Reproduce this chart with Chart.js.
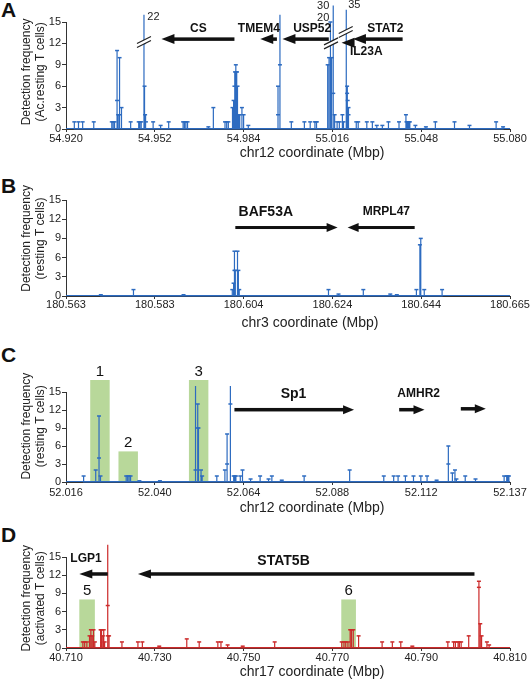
<!DOCTYPE html>
<html>
<head>
<meta charset="utf-8">
<script src="https://cdn.jsdelivr.net/npm/chart.js@4.4.1/dist/chart.umd.min.js"></script>
<style>
  body { margin: 0; background: #fff; width: 530px; height: 682px; position: relative; overflow: hidden; }
  .tag { position: absolute; left: 1px; font: bold 21px 'Liberation Sans', Arial, sans-serif; line-height: 1; color: #111; }
</style>
</head>
<body>
<div class="tag" style="top:-1px">A</div>
<div class="tag" style="top:175px">B</div>
<div class="tag" style="top:344px">C</div>
<div class="tag" style="top:524px">D</div>
<script>
const FONT = "'Liberation Sans', Arial, Helvetica, sans-serif";
const W = 530;

// ---- panel A : chr12, Ac. resting T cells ----
const aTicks = ['54.920', '54.952', '54.984', '55.016', '55.048', '55.080'];
const aPos = [54.923, 54.9245, 54.926, 54.930, 54.9365, 54.937, 54.9375,
  54.9384, 54.9384, 54.9388, 54.9393, 54.9393, 54.940,
  54.9433, 54.9462, 54.9466, 54.9471,
  54.9481, 54.9481, 54.9483, 54.9485, 54.9488,
  54.9514, 54.9541, 54.957, 54.9622, 54.9627, 54.9632, 54.9638,
  54.9713, 54.9731, 54.9773, 54.9779, 54.9785,
  54.9800, 54.9804, 54.9807, 54.9809, 54.9812, 54.9814, 54.9816, 54.9818, 54.9822, 54.9826, 54.9834, 54.984, 54.9857,
  54.9964, 54.9964, 54.9971, 54.9971,
  55.0012, 55.0059, 55.008, 55.0097, 55.0101, 55.0104,
  55.0143, 55.0148, 55.0153, 55.0157, 55.0163, 55.0163, 55.0168,
  55.0177, 55.0185, 55.0196, 55.020,
  55.021, 55.0213, 55.0213, 55.0215, 55.0218, 55.0218,
  55.0246, 55.0253, 55.0284, 55.0304, 55.032, 55.034, 55.0362,
  55.040, 55.0425, 55.0427, 55.0431, 55.0435, 55.0439, 55.0459, 55.0497,
  55.0531, 55.060, 55.0654, 55.075, 55.0775];
const aVal = [1, 1, 1, 1, 1, 1, 1,
  11, 4, 2, 10, 2, 3,
  1, 1, 1, 1,
  16, 12, 6, 2, 1,
  1, 0.5, 1, 1, 1, 1, 1,
  0.3, 3, 1, 1, 1,
  3, 4, 6, 8, 9, 8, 8, 6, 2, 2, 3, 2, 0.5,
  6, 2, 16, 9,
  1, 1, 1, 1, 1, 1,
  9, 10, 15, 10, 17.3, 5, 2,
  1, 1, 2, 1,
  16.7, 6, 5, 4, 3, 2,
  1, 1, 1, 1, 0.5, 0.5, 1,
  1, 2, 1, 1, 1, 1, 0.5, 0.3,
  1, 1, 0.5, 1, 0.3];
const aGenes = [
  { name: 'CS',    from: 54.9807, to: 54.9544, y: 12.6, at: 54.9677, ty: 14 },
  { name: 'TMEM4', from: 54.9960, to: 54.9900, y: 12.6, at: 54.9895, ty: 14 },
  { name: 'USP52', from: 55.0147, to: 54.9980, y: 12.6, at: 55.0087, ty: 14 },
  { name: 'STAT2', from: 55.0413, to: 55.0234, y: 12.6, at: 55.0351, ty: 14 },
  { name: 'IL23A', from: 55.0220, to: 55.0193, y: 12.1, at: 55.0282, ty: 10.8 }
];
const aBreaks = [{ x: 54.9481, y: 12.2 }, { x: 55.0155, y: 12.0 }, { x: 55.0208, y: 13.6 }];
const aNotes = [
  { text: '22', x: 54.9493, y: 15.7, align: 'left' },
  { text: '30', x: 55.0149, y: 17.2, align: 'right' },
  { text: '20', x: 55.0149, y: 15.6, align: 'right' },
  { text: '35', x: 55.0217, y: 17.4, align: 'left' }
];

// ---- panel B : chr3, resting T cells ----
const bTicks = ['180.563', '180.583', '180.604', '180.624', '180.644', '180.665'];
const bPos = [180.571, 180.5785, 180.590, 180.6012, 180.6015, 180.6017, 180.6017, 180.6019,
  180.6024, 180.6026, 180.6028, 180.6233, 180.6256, 180.6313, 180.6375, 180.639,
  180.6435, 180.6443, 180.6445, 180.6453, 180.6494];
const bVal = [0.2, 1, 0.2, 1, 2, 7, 4, 4,
  7, 4, 1, 1, 0.3, 1, 0.3, 0.2,
  1, 8, 9, 1, 1];
const bGenes = [
  { name: 'BAF53A', from: 180.6019, to: 180.6254, y: 10.7, at: 180.6089, ty: 13.1 },
  { name: 'MRPL47', from: 180.6431, to: 180.6277, y: 10.7, at: 180.6366, ty: 13.1 }
];

// ---- panel C : chr12 (Sp1), resting T cells ----
const cTicks = ['52.016', '52.040', '52.064', '52.088', '52.112', '52.137'];
const cPos = [52.0208, 52.0241, 52.025, 52.025, 52.0254, 52.0324, 52.0328, 52.0332, 52.0336, 52.036, 52.0416,
  52.0513, 52.0513, 52.0519, 52.0519, 52.0521, 52.0528, 52.0531,
  52.0571, 52.0593, 52.0599, 52.0599, 52.0608, 52.0608,
  52.0617, 52.062, 52.0623, 52.0635, 52.0641,
  52.0663, 52.0689, 52.0712, 52.0721, 52.0748,
  52.0809, 52.0933, 52.1026, 52.1053, 52.1065, 52.1085, 52.1107, 52.1127, 52.1144, 52.117,
  52.1202, 52.1202, 52.1213, 52.122, 52.1224, 52.1248, 52.1276, 52.1354, 52.1361, 52.1364, 52.1367];
const cVal = [1, 2, 11, 4, 1, 1, 1, 1, 1, 0.2, 0.2,
  16, 2, 13, 9, 9, 2, 1,
  1, 2, 8, 3, 16, 13,
  1, 1, 1, 1, 2,
  0.5, 1, 0.5, 1, 0.3,
  1, 2, 1, 1, 1, 1, 1, 1, 1, 0.3,
  6, 3, 1.5, 2, 0.5, 1, 0.5, 1, 1, 1, 1];
const cGenes = [
  { name: 'Sp1',   from: 52.0619, to: 52.0945, y: 12.05, at: 52.0780, ty: 14.7 },
  { name: 'AMHR2', from: 52.1068, to: 52.1137, y: 12.05, at: 52.1121, ty: 14.8 },
  { name: '',      from: 52.1236, to: 52.1304, y: 12.2 }
];
const cBoxes = [
  { label: '1', from: 52.0226, to: 52.0279, top: 17 },
  { label: '2', from: 52.0303, to: 52.0356, top: 5.1 },
  { label: '3', from: 52.0495, to: 52.0548, top: 17 }
];

// ---- panel D : chr17 (STAT5B), activated T cells ----
const dTicks = ['40.710', '40.730', '40.750', '40.770', '40.790', '40.810'];
const dPos = [40.7138, 40.7142, 40.7147, 40.7153, 40.7156, 40.7159, 40.7162, 40.7165,
  40.7178, 40.718, 40.7183, 40.7185, 40.7187,
  40.7194, 40.7194, 40.7194, 40.7197,
  40.7226, 40.7262, 40.7272, 40.731, 40.7372, 40.740, 40.7442, 40.7449, 40.7464, 40.7498, 40.757,
  40.7721, 40.7726, 40.773, 40.7735, 40.774, 40.7743, 40.7747, 40.7759,
  40.7812, 40.7835, 40.7854, 40.788, 40.796, 40.7973, 40.7977, 40.7983, 40.7986, 40.799, 40.8007,
  40.803, 40.803, 40.8033, 40.8036, 40.8048, 40.8053];
const dVal = [1, 1, 1, 2, 3, 2, 3, 1,
  3, 3, 2, 3, 1,
  17, 7, 2, 2,
  1, 1, 1, 0.3, 1.5, 1, 1, 1, 0.5, 0.3, 1,
  1, 1, 1, 1, 3, 3, 3, 2,
  1, 1, 1, 0.3, 1, 1, 1, 1, 1, 1, 2,
  11, 10, 4, 2, 1, 0.5];
const dGenes = [
  { name: 'LGP1',   from: 40.7194, to: 40.7130, y: 12.2, at: 40.7145, ty: 14.7 },
  { name: 'STAT5B', from: 40.8020, to: 40.7262, y: 12.2, at: 40.7590, ty: 14.3 }
];
const dBoxes = [
  { label: '5', from: 40.7130, to: 40.7165, top: 8 },
  { label: '6', from: 40.7720, to: 40.7753, top: 8 }
];

const bigLabels = ['BAF53A', 'Sp1', 'STAT5B'];

function stems(pos, val) {
  const pts = [];
  pos.forEach((p, i) => {
    pts.push({ x: p, y: 0 }, { x: p, y: val[i], cap: true }, { x: p, y: 0 });
  });
  return pts;
}

function arrow(ctx, x1, x2, yy, a) {
  const dir = Math.sign(x2 - x1);
  const xb = x2 - dir * a.head;
  ctx.fillRect(Math.min(x1, xb), yy - a.w / 2, Math.abs(xb - x1), a.w);
  ctx.beginPath();
  ctx.moveTo(x2, yy);
  ctx.lineTo(xb - dir * 1, yy - a.half);
  ctx.lineTo(xb - dir * 1, yy + a.half);
  ctx.closePath();
  ctx.fill();
}

function breakMark(ctx, cx, cy) {
  ctx.fillStyle = '#fff';
  ctx.beginPath();
  ctx.moveTo(cx - 7, cy + 1.5);
  ctx.lineTo(cx + 7, cy - 5.5);
  ctx.lineTo(cx + 7, cy - 1.5);
  ctx.lineTo(cx - 7, cy + 5.5);
  ctx.closePath();
  ctx.fill();
  ctx.strokeStyle = '#222';
  ctx.lineWidth = 1.2;
  ctx.beginPath();
  ctx.moveTo(cx - 7, cy + 1.5); ctx.lineTo(cx + 7, cy - 5.5);
  ctx.moveTo(cx - 7, cy + 5.5); ctx.lineTo(cx + 7, cy - 1.5);
  ctx.stroke();
}

const overlay = {
  id: 'overlay',
  beforeDatasetsDraw(chart, args, o) {
    const { ctx, scales: { x, y } } = chart;
    ctx.save();
    (o.boxes || []).forEach(b => {
      const x1 = x.getPixelForValue(b.from), x2 = x.getPixelForValue(b.to);
      const yt = y.getPixelForValue(b.top), yb = y.getPixelForValue(0);
      ctx.fillStyle = 'rgb(184,216,154)';
      ctx.fillRect(x1, yt, x2 - x1, yb - yt);
      ctx.fillStyle = '#111';
      ctx.font = '15px ' + FONT;
      ctx.textAlign = 'center';
      ctx.textBaseline = 'alphabetic';
      ctx.fillText(b.label, (x1 + x2) / 2, yt - 4);
    });
    ctx.restore();
  },
  afterDatasetsDraw(chart, args, o) {
    const { ctx, scales: { x, y } } = chart;
    ctx.save();
    (o.breaks || []).forEach(b => breakMark(ctx, x.getPixelForValue(b.x), y.getPixelForValue(b.y)));
    ctx.fillStyle = '#111';
    (o.genes || []).forEach(g => {
      arrow(ctx, x.getPixelForValue(g.from), x.getPixelForValue(g.to), y.getPixelForValue(g.y), o.arrow);
      if (g.name) {
        ctx.font = 'bold ' + (bigLabels.includes(g.name) ? 14 : 12) + 'px ' + FONT;
        ctx.textAlign = 'center';
        ctx.textBaseline = 'middle';
        ctx.fillText(g.name, x.getPixelForValue(g.at), y.getPixelForValue(g.ty));
      }
    });
    ctx.font = '11px ' + FONT;
    ctx.fillStyle = '#222';
    ctx.textBaseline = 'middle';
    (o.notes || []).forEach(n => {
      ctx.textAlign = n.align;
      ctx.fillText(n.text, x.getPixelForValue(n.x), y.getPixelForValue(n.y));
    });
    // axis titles
    ctx.fillStyle = '#222';
    ctx.font = '14px ' + FONT;
    ctx.textAlign = 'center';
    ctx.fillText(o.xTitle, o.xTitleX, o.xTitleY);
    ctx.font = '12px ' + FONT;
    ctx.translate(27, y.getPixelForValue(o.yTitleAt));
    ctx.rotate(-Math.PI / 2);
    ctx.fillText(o.yTitle[0], 0, 0);
    ctx.fillText(o.yTitle[1], 0, 14);
    ctx.restore();
  }
};

function panel(cfg) {
  const cv = document.createElement('canvas');
  cv.width = W;
  cv.height = cfg.height;
  cv.style.cssText = `position:absolute;left:0;top:${cfg.top}px;width:${W}px;height:${cfg.height}px;`;
  document.body.appendChild(cv);
  const a = cfg.area;
  const [min, max] = cfg.range;
  new Chart(cv, {
    type: 'scatter',
    data: {
      datasets: [{
        data: stems(cfg.pos, cfg.val),
        showLine: true,
        borderColor: cfg.color,
        borderWidth: 1.2,
        pointStyle: 'line',
        pointRadius: ctx => (ctx.raw && ctx.raw.cap ? 2 : 0),
        pointBorderColor: cfg.color,
        pointBorderWidth: 1.5,
        pointHoverRadius: 0,
        tension: 0,
        clip: false
      }, {
        data: [{ x: min, y: 0 }, { x: max, y: 0 }],
        showLine: true,
        borderColor: cfg.color,
        borderWidth: 2,
        pointRadius: 0
      }]
    },
    options: {
      responsive: false,
      animation: false,
      devicePixelRatio: 1,
      events: [],
      layout: { padding: { top: a.t, right: W - a.r, left: 0, bottom: 0 } },
      plugins: {
        legend: { display: false },
        tooltip: { enabled: false },
        overlay: {
          genes: cfg.genes, breaks: cfg.breaks, notes: cfg.notes, boxes: cfg.boxes,
          arrow: cfg.arrow,
          xTitle: cfg.xTitle, xTitleX: cfg.xTitleX, xTitleY: cfg.xTitleY,
          yTitle: cfg.yTitle, yTitleAt: cfg.yTitleAt
        }
      },
      scales: {
        x: {
          type: 'linear', min, max,
          afterFit: s => { s.height = cfg.height - a.b; },
          afterBuildTicks: s => { s.ticks = cfg.ticks.map((_, i) => ({ value: min + i * (max - min) / 5 })); },
          ticks: { callback: (v, i) => cfg.ticks[i], autoSkip: false, maxRotation: 0, font: { size: 11, family: FONT }, color: '#222', padding: cfg.tickPad },
          grid: { drawOnChartArea: false, tickLength: 3, color: '#333' },
          border: { color: '#333' }
        },
        y: {
          min: 0, max: 15,
          afterFit: s => { s.width = a.l; },
          ticks: { stepSize: 3, font: { size: 11, family: FONT }, color: '#222', padding: 1 },
          grid: { drawOnChartArea: false, tickLength: 4, color: '#333' },
          border: { color: '#333' }
        }
      }
    },
    plugins: [overlay]
  });
}

const blue = '#2d6bc0';
const red = '#cc2a2a';

panel({ top: 0, height: 165, area: { l: 66, t: 22, r: 510, b: 129 }, color: blue,
  range: [54.920, 55.080], ticks: aTicks, pos: aPos, val: aVal, tickPad: 0,
  genes: aGenes, breaks: aBreaks, notes: aNotes, arrow: { w: 3.5, head: 12, half: 5 },
  xTitle: 'chr12 coordinate (Mbp)', xTitleX: 312, xTitleY: 153,
  yTitle: ['Detection frequency', '(Ac.resting T cells)'], yTitleAt: 8 });

panel({ top: 165, height: 175, area: { l: 66, t: 35, r: 510, b: 131 }, color: blue,
  range: [180.563, 180.665], ticks: bTicks, pos: bPos, val: bVal, tickPad: -1,
  genes: bGenes, arrow: { w: 3, head: 10, half: 4.5 },
  xTitle: 'chr3 coordinate (Mbp)', xTitleX: 310, xTitleY: 158,
  yTitle: ['Detection frequency', '(resting T cells)'], yTitleAt: 9 });

panel({ top: 340, height: 180, area: { l: 66, t: 52, r: 510, b: 142 }, color: blue,
  range: [52.016, 52.137], ticks: cTicks, pos: cPos, val: cVal, tickPad: 1,
  genes: cGenes, boxes: cBoxes, arrow: { w: 3.5, head: 10, half: 4.5 },
  xTitle: 'chr12 coordinate (Mbp)', xTitleX: 312, xTitleY: 168,
  yTitle: ['Detection frequency', '(resting T cells)'], yTitleAt: 9.3 });

panel({ top: 520, height: 162, area: { l: 66, t: 37, r: 510, b: 128 }, color: red,
  range: [40.710, 40.810], ticks: dTicks, pos: dPos, val: dVal, tickPad: 0,
  genes: dGenes, boxes: dBoxes, arrow: { w: 3.5, head: 12, half: 4.5 },
  xTitle: 'chr17 coordinate (Mbp)', xTitleX: 312, xTitleY: 152,
  yTitle: ['Detection frequency', '(activated T cells)'], yTitleAt: 8.2 });
</script>
</body>
</html>
